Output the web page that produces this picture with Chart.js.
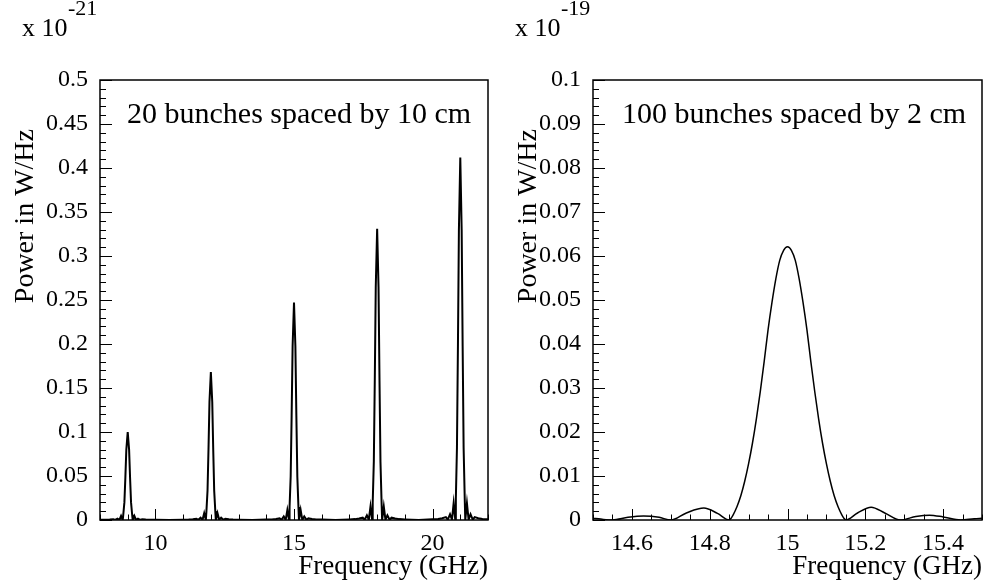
<!DOCTYPE html>
<html>
<head>
<meta charset="utf-8">
<script src="https://cdn.jsdelivr.net/npm/chart.js@4.4.1/dist/chart.umd.min.js"></script>
<style>
  html, body { margin: 0; padding: 0; background: #fff; }
  #wrap { position: relative; width: 984px; height: 586px; }
  #wrap canvas { position: absolute; top: 0; }
</style>
</head>
<body>
<div id="wrap">
  <canvas id="leftChart" width="492" height="586" style="left:0"></canvas>
  <canvas id="rightChart" width="492" height="586" style="left:492px"></canvas>
</div>
<script>
// left panel: 20 bunches spaced by 10 cm (power in 1e-21 W/Hz)
const leftFreq = [
  8.0, 8.2, 8.35, 8.48, 8.55, 8.63, 8.70, 8.76, 8.82, 8.84, 8.88, 8.915, 8.95, 9.00, 9.05, 9.085, 9.12, 9.16, 9.18, 9.24, 9.30, 9.37, 9.45, 9.52, 9.65, 9.80, 10.0,
  10.5,
  11.0, 11.2, 11.35, 11.48, 11.55, 11.63, 11.70, 11.76, 11.82, 11.84, 11.88, 11.915, 11.95, 12.00, 12.05, 12.085, 12.12, 12.16, 12.18, 12.24, 12.30, 12.37, 12.45, 12.52, 12.65, 12.80, 13.0,
  13.5,
  14.0, 14.2, 14.35, 14.48, 14.55, 14.63, 14.70, 14.76, 14.82, 14.84, 14.88, 14.915, 14.95, 15.00, 15.05, 15.085, 15.12, 15.16, 15.18, 15.24, 15.30, 15.37, 15.45, 15.52, 15.65, 15.80, 16.0,
  16.5,
  17.0, 17.2, 17.35, 17.48, 17.55, 17.63, 17.70, 17.76, 17.82, 17.84, 17.88, 17.915, 17.95, 18.00, 18.05, 18.085, 18.12, 18.16, 18.18, 18.24, 18.30, 18.37, 18.45, 18.52, 18.65, 18.80, 19.0,
  19.5,
  20.0, 20.2, 20.35, 20.48, 20.55, 20.63, 20.70, 20.76, 20.82, 20.84, 20.88, 20.915, 20.95, 21.00, 21.05, 21.085, 21.12, 21.16, 21.18, 21.24, 21.30, 21.37, 21.45, 21.52, 21.65, 21.80, 22.0
];
const leftPower = [
  0.0002, 0.0003, 0.0005, 0.0008, 0.0001, 0.0016, 0.0001, 0.0046, 0, 0.0060, 0.0200, 0.0480, 0.0800, 0.100, 0.0800, 0.0480, 0.0200, 0.0060, 0, 0.0046, 0.0001, 0.0016, 0.0001, 0.0008, 0.0005, 0.0003, 0.0002,
  0,
  0.0003, 0.0005, 0.0008, 0.0013, 0.0002, 0.0027, 0.0002, 0.0077, 0, 0.0101, 0.0336, 0.0806, 0.1344, 0.168, 0.1344, 0.0806, 0.0336, 0.0101, 0, 0.0077, 0.0002, 0.0027, 0.0002, 0.0013, 0.0008, 0.0005, 0.0003,
  0,
  0.0005, 0.0007, 0.0012, 0.0020, 0.0002, 0.0040, 0.0002, 0.0114, 0, 0.0148, 0.0494, 0.1186, 0.1976, 0.247, 0.1976, 0.1186, 0.0494, 0.0148, 0, 0.0114, 0.0002, 0.0040, 0.0002, 0.0020, 0.0012, 0.0007, 0.0005,
  0,
  0.0007, 0.0010, 0.0017, 0.0026, 0.0003, 0.0053, 0.0003, 0.0152, 0, 0.0199, 0.0662, 0.1589, 0.2648, 0.331, 0.2648, 0.1589, 0.0662, 0.0199, 0, 0.0152, 0.0003, 0.0053, 0.0003, 0.0026, 0.0017, 0.0010, 0.0007,
  0,
  0.0008, 0.0012, 0.0021, 0.0033, 0.0004, 0.0066, 0.0004, 0.0190, 0, 0.0247, 0.0824, 0.1978, 0.3296, 0.412, 0.3296, 0.1978, 0.0824, 0.0247, 0, 0.0190, 0.0004, 0.0066, 0.0004, 0.0033, 0.0021, 0.0012, 0.0008
];

// right panel: 100 bunches spaced by 2 cm (power in 1e-19 W/Hz)
const rightFreq = [
  14.50, 14.52, 14.55, 14.59, 14.63, 14.67, 14.70, 14.74, 14.785, 14.82, 14.85,
  14.855, 14.86, 14.87, 14.88, 14.89, 14.90, 14.91, 14.92, 14.93, 14.94, 14.95, 14.96, 14.97, 14.98, 14.99,
  15.00,
  15.01, 15.02, 15.03, 15.04, 15.05, 15.06, 15.07, 15.08, 15.09, 15.10, 15.11, 15.12, 15.13, 15.14, 15.145,
  15.15, 15.18, 15.215, 15.25, 15.29, 15.33, 15.365, 15.40, 15.445, 15.48, 15.50
];
const rightPower = [
  0.0004, 0.0002, 0.0000, 0.0006, 0.0009, 0.0006, 0.0000, 0.0016, 0.0027, 0.0015, 0.0000,
  0.0004, 0.0011, 0.0030, 0.0055, 0.0088, 0.0128, 0.0175, 0.0230, 0.0292, 0.0360, 0.0432, 0.0494, 0.0548, 0.0590, 0.0613,
  0.0621,
  0.0613, 0.0590, 0.0548, 0.0494, 0.0432, 0.0360, 0.0292, 0.0230, 0.0175, 0.0128, 0.0088, 0.0055, 0.0030, 0.0011, 0.0004,
  0.0000, 0.0016, 0.0029, 0.0016, 0.0000, 0.0008, 0.0011, 0.0007, 0.0000, 0.0003, 0.0004
];

// tick labels
const leftXTicks = [10, 15, 20];
const leftYTicks = [0, 0.05, 0.1, 0.15, 0.2, 0.25, 0.3, 0.35, 0.4, 0.45, 0.5];
const rightXTicks = [14.6, 14.8, 15, 15.2, 15.4];
const rightYTicks = [0, 0.01, 0.02, 0.03, 0.04, 0.05, 0.06, 0.07, 0.08, 0.09, 0.1];
</script>
<script>
// minor tick positions (decoration only)
function steps(from, to, step) {
  const out = [];
  const n = Math.round((to - from) / step);
  for (let i = 0; i <= n; i++) out.push(+(from + i * step).toFixed(4));
  return out;
}

const serif = "'Liberation Serif', 'Times New Roman', serif";

// frame, inside ticks and the ROOT-like texts
const rootFrame = {
  id: "rootFrame",
  afterDraw(chart, args, o) {
    const { ctx, chartArea: a, scales } = chart;
    ctx.save();
    ctx.strokeStyle = "#000";
    ctx.lineWidth = 1;
    ctx.beginPath();
    o.xMinor.forEach(v => {
      const px = Math.round(scales.x.getPixelForValue(v)) + 0.5;
      const len = o.xMajor.some(m => Math.abs(m - v) < 1e-6) ? 11 : 5.5;
      ctx.moveTo(px, a.bottom);
      ctx.lineTo(px, a.bottom - len);
    });
    o.yMinor.forEach(v => {
      const py = Math.round(scales.y.getPixelForValue(v)) + 0.5;
      const len = o.yMajor.some(m => Math.abs(m - v) < 1e-6) ? 12 : 6;
      ctx.moveTo(a.left, py);
      ctx.lineTo(a.left + len, py);
    });
    ctx.stroke();

    ctx.lineWidth = 1.5;
    ctx.strokeRect(a.left, a.top, a.right - a.left, a.bottom - a.top);

    ctx.fillStyle = "#000";
    ctx.textBaseline = "alphabetic";
    // exponent
    ctx.textAlign = "left";
    ctx.font = "26px " + serif;
    ctx.fillText("x 10", o.expX, 36);
    ctx.font = "22px " + serif;
    ctx.fillText(o.exponent, o.expX + 46, 15);
    // label in the frame
    ctx.font = "30px " + serif;
    ctx.fillText(o.label, o.labelX, 123);
    // x title
    ctx.textAlign = "right";
    ctx.font = "27px " + serif;
    ctx.fillText("Frequency (GHz)", a.right, 574);
    // y title
    ctx.translate(o.yTitleX, a.top + 49);
    ctx.rotate(-Math.PI / 2);
    ctx.font = "28px " + serif;
    ctx.fillText("Power in W/Hz", 0, 0);
    ctx.restore();
  }
};

function makeChart(id, freq, power, cfg) {
  const points = freq.map((f, i) => ({ x: f, y: power[i] }));
  return new Chart(document.getElementById(id), {
    type: "line",
    data: {
      datasets: [{
        data: points,
        borderColor: "#000",
        borderWidth: cfg.lineWidth,
        pointRadius: 0,
        fill: false,
        tension: 0,
        cubicInterpolationMode: cfg.smooth ? "monotone" : "default"
      }]
    },
    options: {
      responsive: false,
      animation: false,
      layout: { padding: { left: 0, top: 80, right: cfg.padRight, bottom: 0 } },
      plugins: {
        legend: { display: false },
        tooltip: { enabled: false },
        rootFrame: cfg.frame
      },
      scales: {
        x: {
          type: "linear",
          min: cfg.xMin,
          max: cfg.xMax,
          grid: { display: false, drawTicks: false },
          border: { display: false },
          afterBuildTicks: s => { s.ticks = cfg.xTicks.map(v => ({ value: v })); },
          afterFit: s => { s.height = 66; },
          ticks: {
            autoSkip: false,
            maxRotation: 0,
            padding: 9,
            color: "#000",
            font: { family: serif, size: 24 },
            callback: v => String(v)
          }
        },
        y: {
          type: "linear",
          min: 0,
          max: cfg.yMax,
          grid: { display: false, drawTicks: false },
          border: { display: false },
          afterBuildTicks: s => { s.ticks = cfg.yTicks.map(v => ({ value: v })); },
          afterFit: s => { s.width = cfg.yWidth; },
          ticks: {
            autoSkip: false,
            padding: 12,
            color: "#000",
            font: { family: serif, size: 24 },
            callback: v => String(v)
          }
        }
      }
    },
    plugins: [rootFrame]
  });
}

makeChart("leftChart", leftFreq, leftPower, {
  lineWidth: 2, smooth: false, padRight: 4, yWidth: 100,
  xMin: 8, xMax: 22, yMax: 0.5, xTicks: leftXTicks, yTicks: leftYTicks,
  frame: {
    xMajor: leftXTicks, xMinor: steps(8, 22, 1),
    yMajor: leftYTicks, yMinor: steps(0, 0.5, 0.01),
    exponent: "-21", expX: 22, label: "20 bunches spaced by 10 cm", labelX: 127, yTitleX: 33
  }
});

makeChart("rightChart", rightFreq, rightPower, {
  lineWidth: 1.5, smooth: true, padRight: 2, yWidth: 101,
  xMin: 14.5, xMax: 15.5, yMax: 0.1, xTicks: rightXTicks, yTicks: rightYTicks,
  frame: {
    xMajor: rightXTicks, xMinor: steps(14.5, 15.5, 0.05),
    yMajor: rightYTicks, yMinor: steps(0, 0.1, 0.002),
    exponent: "-19", expX: 23, label: "100 bunches spaced by 2 cm", labelX: 130, yTitleX: 44
  }
});
</script>
</body>
</html>
